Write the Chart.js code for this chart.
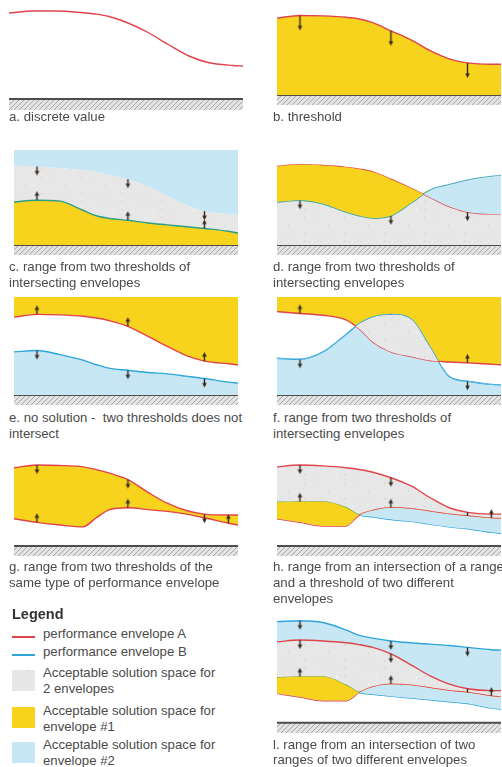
<!DOCTYPE html>
<html>
<head>
<meta charset="utf-8">
<script src="https://cdn.jsdelivr.net/npm/chart.js@4.4.0/dist/chart.umd.min.js"></script>
<style>
  body { margin: 0; width: 502px; height: 767px; overflow: hidden; background: #fff; position: relative;
         font-family: "Liberation Sans", Arial, sans-serif; }
  canvas { position: absolute; }
  .cap { position: absolute; font-size: 13.2px; line-height: 16px; color: #4a4a4a; white-space: nowrap; }
  .sw { position: absolute; left: 12px; width: 23px; }
</style>
</head>
<body>
<canvas id="pa" width="234" height="105" style="left:9px;top:5px"></canvas>
<canvas id="pb" width="234" height="105" style="left:272px;top:5px"></canvas>
<canvas id="pc" width="234" height="115" style="left:9px;top:145px"></canvas>
<canvas id="pd" width="234" height="115" style="left:272px;top:145px"></canvas>
<canvas id="pe" width="234" height="118" style="left:9px;top:292px"></canvas>
<canvas id="pf" width="234" height="118" style="left:272px;top:292px"></canvas>
<canvas id="pg" width="234" height="111" style="left:9px;top:450px"></canvas>
<canvas id="ph" width="234" height="111" style="left:272px;top:450px"></canvas>
<canvas id="pl" width="234" height="126" style="left:272px;top:612px"></canvas>

<div class="cap" style="left:9px;top:109px">a. discrete value</div>
<div class="cap" style="left:273px;top:109px">b. threshold</div>
<div class="cap" style="left:9px;top:259px">c. range from two thresholds of<br>intersecting envelopes</div>
<div class="cap" style="left:273px;top:259px">d. range from two thresholds of<br>intersecting envelopes</div>
<div class="cap" style="left:9px;top:410px">e. no solution -&nbsp; two thresholds does not<br>intersect</div>
<div class="cap" style="left:273px;top:410px">f. range from two thresholds of<br>intersecting envelopes</div>
<div class="cap" style="left:9px;top:559px">g. range from two thresholds of the<br>same type of performance envelope</div>
<div class="cap" style="left:273px;top:559px">h. range from an intersection of a range<br>and a threshold of two different<br>envelopes</div>
<div class="cap" style="left:273px;top:737px;line-height:15px">l. range from an intersection of two<br>ranges of two different envelopes</div>

<div class="cap" style="left:12px;top:606px;font-size:14.5px;font-weight:bold;color:#333">Legend</div>
<div class="sw" style="top:636px;height:2px;background:#e0434b"></div>
<div class="cap" style="left:43px;top:626px">performance envelope A</div>
<div class="sw" style="top:654px;height:2px;background:#2ea6dc"></div>
<div class="cap" style="left:43px;top:644px">performance envelope B</div>
<div class="sw" id="swGray" style="top:670px;height:21px"></div>
<div class="cap" style="left:43px;top:665px">Acceptable solution space for<br>2 envelopes</div>
<div class="sw" style="top:707px;height:21px;background:#f7d31e"></div>
<div class="cap" style="left:43px;top:703px">Acceptable solution space for<br>envelope #1</div>
<div class="sw" style="top:742px;height:21px;background:#c6e7f3"></div>
<div class="cap" style="left:43px;top:737px">Acceptable solution space for<br>envelope #2</div>

<script>
// x positions of the samples (panel pixels, 0..234) shared by every curve
const X = [0, 24, 48, 72, 86, 100, 119, 140, 160, 180, 199, 224, 234];
const ARROW_AT = [1, 6, 10];
const ARROW_AT_END = [1, 6, 11];
const GROUND_X = [0, 234];
const GROUND_Y = [0, 0];

// heights above the ground line
const aRed = [86, 88, 88, 86.5, 85, 82.5, 76, 66, 54, 43, 36.5, 33.5, 33];
const bRed = [85, 88, 87.5, 86, 84, 80, 71, 61, 49, 40, 35.5, 34, 34];
const cUpper = [87, 86, 84, 82, 80, 77, 72, 64, 54, 44, 37, 34, 33];
const cLower = [47, 49, 48, 38, 32, 29, 27, 24, 22, 20, 18, 15, 13];
const dRed = [86, 88, 87, 85, 83, 80, 72, 62, 52, 42, 36, 34, 34];
const dBlue = [47, 49, 45, 36, 32, 29.5, 32, 46, 60, 66, 71, 75, 76];
const eRed = [85, 88, 87.5, 86, 84, 81, 75, 64, 53, 43, 37, 34, 33];
const eBlue = [47, 48.5, 44, 38, 33, 29, 27, 24.5, 23, 20.5, 18, 14, 13];
const fRed = [91, 89, 87, 82, 72, 58, 47, 42, 37.5, 36, 35, 33.5, 33];
const fBlue = [40, 39, 47, 66, 78, 85, 88, 83, 52, 20, 15, 11.5, 11];
const gUpper = [86, 89, 88.5, 87, 84, 80, 73, 59, 47, 39, 35, 34, 34];
const gLower = [30, 26, 23, 21, 31, 40, 42, 40, 38, 35, 31, 25, 23];
const hRedTop = [87, 89, 88, 86, 84, 81, 75, 66, 53, 42, 37, 35, 35];
const hRedLow = [30, 26, 22, 22, 34, 39, 42, 41, 38, 35, 33, 30.5, 30];
const hBlue = [48, 48.5, 48.5, 42, 34, 32, 29, 27, 24, 21, 19, 15, 14];
const lBlueTop = [110, 111, 109, 101, 95, 92, 89, 87, 85.5, 84, 82, 79.5, 79];
const lRedTop = [88, 90, 89, 87, 85, 82, 75, 63, 51, 42, 37, 35, 35];
const lBlueLow = [49, 50, 50, 41, 33, 31, 29, 27, 25, 23, 21, 16, 15];
const lRedLow = [32, 28, 24, 24, 33, 39, 42, 41, 38, 35, 33, 29, 28];

const RED = '#e0434b', BLUE = '#2ea6dc', TEAL = '#2f9e86', GREEN = '#74ad48';
const YELLOW = '#f7d31e', LBLUE = '#c6e7f3', ARROW = '#35281b';

// stippled grey and hatched ground textures
function makeStipple() {
  const c = document.createElement('canvas');
  c.width = 40; c.height = 40;
  const g = c.getContext('2d');
  g.fillStyle = '#e7e7e7';
  g.fillRect(0, 0, 40, 40);
  let s = 7;
  for (let i = 0; i < 520; i++) {
    s = (s * 1103515245 + 12345) & 0x7fffffff;
    const x = s % 40;
    s = (s * 1103515245 + 12345) & 0x7fffffff;
    const y = s % 40;
    g.fillStyle = i % 2 ? '#d5d5d5' : '#f8f8f8';
    g.fillRect(x, y, 1, 1);
  }
  return c;
}
function makeHatch() {
  const c = document.createElement('canvas');
  c.width = 5; c.height = 5;
  const g = c.getContext('2d');
  g.fillStyle = '#e3e3e3';
  g.fillRect(0, 0, 5, 5);
  g.strokeStyle = '#a9a9a9';
  g.lineWidth = 1;
  g.beginPath();
  g.moveTo(-1, 6); g.lineTo(6, -1);
  g.stroke();
  return c;
}
const stippleCanvas = makeStipple();
const hatchCanvas = makeHatch();
const ctx0 = document.createElement('canvas').getContext('2d');
const GRAY = ctx0.createPattern(stippleCanvas, 'repeat');
const HATCH = ctx0.createPattern(hatchCanvas, 'repeat');
document.getElementById('swGray').style.backgroundImage = 'url(' + stippleCanvas.toDataURL() + ')';

const arrowCache = {};
function arrowImg(len) {
  if (arrowCache[len]) return arrowCache[len];
  const c = document.createElement('canvas');
  c.width = 7; c.height = 2 * len + 2;
  const g = c.getContext('2d');
  const cy = len + 1;
  g.strokeStyle = ARROW; g.fillStyle = ARROW; g.lineWidth = 1.4;
  g.beginPath();
  g.moveTo(3.5, cy); g.lineTo(3.5, cy + len - 3);
  g.stroke();
  g.beginPath();
  g.moveTo(3.5, cy + len); g.lineTo(1.2, cy + len - 4.5); g.lineTo(5.8, cy + len - 4.5);
  g.closePath(); g.fill();
  arrowCache[len] = c;
  return c;
}

function pts(ys, xs) {
  xs = xs || X;
  return xs.map((x, i) => ({ x: x, y: ys[i] }));
}
function line(ys, color, split, leftColor) {
  const ds = { data: pts(ys), borderColor: color, borderWidth: 1.4, fill: false, order: 1,
    pointRadius: 0, cubicInterpolationMode: 'monotone' };
  if (split != null) ds.segment = { borderColor: c => c.p0.parsed.x < split ? leftColor : color };
  return ds;
}
function area(ys, fill, bg, order) {
  return { data: pts(ys), borderWidth: 0, borderColor: 'rgba(0,0,0,0)', backgroundColor: bg,
    fill: fill, order: order, pointRadius: 0, cubicInterpolationMode: 'monotone' };
}
function ground() {
  return { data: pts(GROUND_Y, GROUND_X), borderColor: '#4d4d4d', borderWidth: 2,
    backgroundColor: HATCH, fill: 'start', order: 9, pointRadius: 0 };
}
function arrows(ys, at, up, len) {
  return { data: at.map(i => ({ x: X[i], y: ys[i] })), showLine: false,
    pointStyle: arrowImg(len || 9), pointRadius: 4, pointRotation: up ? 180 : 0, order: 0 };
}

function makeChart(id, yMax, datasets) {
  new Chart(document.getElementById(id), {
    type: 'line',
    data: { datasets: datasets },
    options: {
      responsive: false,
      animation: false,
      events: [],
      layout: { padding: 0 },
      plugins: { legend: { display: false }, tooltip: { enabled: false } },
      scales: {
        x: { type: 'linear', min: 0, max: 234, display: false },
        y: { min: -11, max: yMax, display: false }
      }
    }
  });
}

// a. discrete value
makeChart('pa', 94, [line(aRed, RED), ground()]);

// b. threshold
makeChart('pb', 94, [
  line(bRed, RED),
  area(bRed, 'origin', YELLOW, 5),
  ground(),
  arrows(bRed, ARROW_AT, false, 15)
]);

// c.
makeChart('pc', 104, [
  line(cLower, TEAL),
  area(cUpper, 'end', LBLUE, 5),
  area(cUpper, { target: 0 }, GRAY, 5),
  area(cLower, 'origin', YELLOW, 5),
  ground(),
  arrows(cUpper, ARROW_AT, false),
  arrows(cLower, ARROW_AT, true)
]);

// d.
makeChart('pd', 104, [
  line(dRed, RED),
  line(dBlue, BLUE, 150, TEAL),
  area(dRed, 'origin', GRAY, 6),
  area(dBlue, 'origin', GRAY, 6),
  area(dRed, { target: 1, above: YELLOW, below: LBLUE }, 5),
  ground(),
  arrows(dRed, ARROW_AT, false),
  arrows(dBlue, ARROW_AT, false)
]);

// e.
makeChart('pe', 107, [
  line(eRed, RED),
  line(eBlue, BLUE),
  area(eRed, 'end', YELLOW, 5),
  area(eBlue, 'origin', LBLUE, 5),
  ground(),
  arrows(eRed, ARROW_AT, true),
  arrows(eBlue, ARROW_AT, false)
]);

// f.
makeChart('pf', 107, [
  line(fRed, RED),
  line(fBlue, BLUE),
  area(fRed, 'end', YELLOW, 6),
  area(fBlue, 'origin', LBLUE, 6),
  area(fRed, { target: 1, above: 'rgba(0,0,0,0)', below: GRAY }, 5),
  ground(),
  arrows(fRed, ARROW_AT, true),
  arrows(fBlue, ARROW_AT, false)
]);

// g.
makeChart('pg', 100, [
  line(gUpper, RED),
  line(gLower, RED),
  area(gUpper, { target: 1 }, YELLOW, 5),
  ground(),
  arrows(gUpper, ARROW_AT, false),
  arrows(gLower, ARROW_AT_END, true)
]);

// h.
makeChart('ph', 100, [
  line(hRedTop, RED),
  line(hRedLow, RED),
  line(hBlue, BLUE, 86, GREEN),
  area(hRedTop, { target: 1 }, GRAY, 6),
  area(hBlue, { target: 1, above: YELLOW, below: LBLUE }, 5),
  ground(),
  arrows(hRedTop, ARROW_AT, false),
  arrows(hBlue, ARROW_AT, true),
  arrows(hRedLow, ARROW_AT_END, true)
]);

// l.
makeChart('pl', 115, [
  line(lBlueTop, BLUE),
  line(lRedTop, RED),
  line(lBlueLow, BLUE, 86, GREEN),
  line(lRedLow, RED),
  area(lBlueTop, { target: 1 }, LBLUE, 6),
  area(lRedTop, { target: 3 }, GRAY, 6),
  area(lBlueLow, { target: 3, above: YELLOW, below: LBLUE }, 5),
  ground(),
  arrows(lBlueTop, ARROW_AT, false),
  arrows(lRedTop, ARROW_AT, false),
  arrows(lBlueLow, ARROW_AT, true),
  arrows(lRedLow, ARROW_AT_END, true)
]);
</script>
</body>
</html>
